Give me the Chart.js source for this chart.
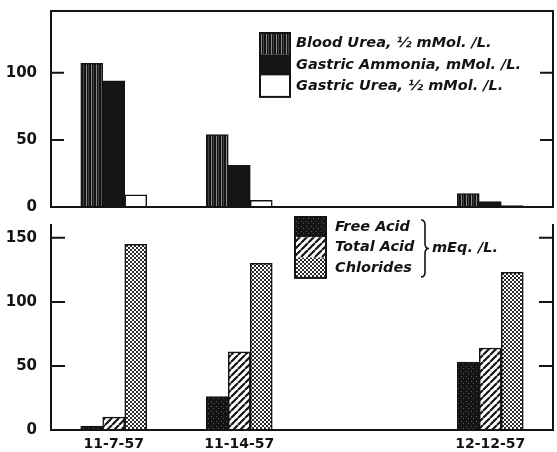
<!DOCTYPE html>
<html>
<head>
<meta charset="utf-8">
<script src="https://cdn.jsdelivr.net/npm/chart.js@4.4.1/dist/chart.umd.min.js"></script>
<style>
  body { margin: 0; background: #fff; }
  #wrap { position: relative; width: 557px; height: 452px; }
  canvas { position: absolute; left: 0; }
  #top { top: 0; }
  #bottom { top: 215px; }
</style>
</head>
<body>
<div id="wrap">
  <canvas id="top" width="557" height="215"></canvas>
  <canvas id="bottom" width="557" height="237"></canvas>
</div>
<script>
// values
const dates = ['11-7-57', '11-14-57', '', '12-12-57'];
const bloodUrea = [107, 54, null, 10];
const gastricAmmonia = [94, 31, null, 4];
const gastricUrea = [9, 5, null, 1];
const freeAcid = [3, 26, null, 53];
const totalAcid = [10, 61, null, 64];
const chlorides = [145, 130, null, 123];
const topTicks = [0, 50, 100];
const bottomTicks = [0, 50, 100, 150];

const ink = '#141414';
const tickFont = { family: 'DejaVu Sans', weight: 'bold', size: 15 };

function makePattern(w, h, draw) {
    const c = document.createElement('canvas');
    c.width = w;
    c.height = h;
    const g = c.getContext('2d');
    draw(g);
    return g.createPattern(c, 'repeat');
}

// fills imitating the printed textures
const striped = makePattern(5, 1, g => {
    g.fillStyle = ink; g.fillRect(0, 0, 5, 1);
    g.fillStyle = '#8a8a8a'; g.fillRect(1, 0, 1, 1);
    g.fillStyle = '#444'; g.fillRect(3, 0, 1, 1);
});
const speckled = makePattern(5, 5, g => {
    g.fillStyle = ink; g.fillRect(0, 0, 5, 5);
    g.fillStyle = '#5a5a5a'; g.fillRect(1, 1, 1, 1); g.fillRect(3, 3, 1, 1);
});
const hatched = makePattern(7, 7, g => {
    g.fillStyle = '#fff'; g.fillRect(0, 0, 7, 7);
    g.strokeStyle = ink; g.lineWidth = 2.2;
    g.beginPath();
    [-7, 0, 7].forEach(o => { g.moveTo(o, 7); g.lineTo(o + 7, 0); });
    g.stroke();
});
const dotted = makePattern(4, 4, g => {
    g.fillStyle = '#fff'; g.fillRect(0, 0, 4, 4);
    g.fillStyle = '#2a2a2a';
    g.fillRect(0, 0, 2, 2); g.fillRect(2, 2, 2, 2);
});

const framePlugin = {
    id: 'frame',
    afterDraw(chart, args, opts) {
        const { ctx, chartArea: a } = chart;
        const y = chart.scales.y;
        ctx.save();
        ctx.strokeStyle = ink;
        ctx.lineWidth = 2;
        ctx.lineCap = 'square';
        ctx.beginPath();
        ctx.moveTo(a.left, a.top); ctx.lineTo(a.left, a.bottom); ctx.lineTo(a.right, a.bottom);
        ctx.moveTo(a.right, a.top); ctx.lineTo(a.right, a.bottom);
        if (opts.topLine) { ctx.moveTo(a.left, a.top); ctx.lineTo(a.right, a.top); }
        y.ticks.forEach(t => {
            if (t.value === 0) return;
            const py = y.getPixelForValue(t.value);
            ctx.moveTo(a.left, py); ctx.lineTo(a.left + opts.tick, py);
            ctx.moveTo(a.right, py); ctx.lineTo(a.right - opts.tick, py);
        });
        ctx.stroke();
        ctx.restore();
    }
};

const boxLegend = {
    id: 'boxLegend',
    afterDraw(chart, args, o) {
        const ctx = chart.ctx;
        const sets = chart.data.datasets;
        ctx.save();
        ctx.font = 'italic bold 14.5px "DejaVu Sans"';
        ctx.textBaseline = 'middle';
        sets.forEach((ds, i) => {
            const y = o.y + i * o.row;
            ctx.fillStyle = ds.backgroundColor;
            ctx.fillRect(o.x, y, o.w, o.row);
            ctx.fillStyle = ink;
            ctx.fillText(ds.label, o.x + o.w + o.gap, y + o.row / 2);
        });
        ctx.strokeStyle = ink;
        ctx.lineWidth = 2;
        ctx.strokeRect(o.x, o.y, o.w, o.row * sets.length);
        if (o.unit) {
            const top = o.y + 3, bot = o.y + o.row * sets.length - 1, mid = (top + bot) / 2, bx = o.braceX;
            ctx.lineWidth = 1.6;
            ctx.beginPath();
            ctx.moveTo(bx, top);
            ctx.quadraticCurveTo(bx + 4, top, bx + 4, top + 5);
            ctx.lineTo(bx + 4, mid - 5);
            ctx.quadraticCurveTo(bx + 4, mid, bx + 8, mid);
            ctx.quadraticCurveTo(bx + 4, mid, bx + 4, mid + 5);
            ctx.lineTo(bx + 4, bot - 5);
            ctx.quadraticCurveTo(bx + 4, bot, bx, bot);
            ctx.stroke();
            ctx.fillText(o.unit, bx + 11, mid);
        }
        ctx.restore();
    }
};

function barSet(label, data, fill) {
    return {
        label: label,
        data: data,
        backgroundColor: fill,
        borderColor: ink,
        borderWidth: 1.5,
        barThickness: 22
    };
}

function yScale(max, ticks) {
    return {
        min: 0,
        max: max,
        afterBuildTicks: s => { s.ticks = ticks.map(v => ({ value: v })); },
        afterFit: s => {
            s.width = 51;
            s.paddingTop = 0;
            s.paddingBottom = 0;
        },
        grid: { display: false, drawTicks: false },
        border: { display: false },
        ticks: { padding: 14, color: ink, font: tickFont }
    };
}

new Chart(document.getElementById('top'), {
    type: 'bar',
    data: {
        labels: dates,
        datasets: [
            barSet('Blood Urea, \u00bd mMol. /L.', bloodUrea, striped),
            barSet('Gastric Ammonia, mMol. /L.', gastricAmmonia, ink),
            barSet('Gastric Urea, \u00bd mMol. /L.', gastricUrea, '#fff')
        ]
    },
    options: {
        responsive: false,
        animation: false,
        devicePixelRatio: 1,
        layout: { padding: { top: 11, right: 4, bottom: 8, left: 0 } },
        plugins: {
            legend: { display: false },
            tooltip: { enabled: false },
            frame: { topLine: true, tick: 12 },
            boxLegend: { x: 260, y: 33, row: 21.3, w: 30, gap: 6 }
        },
        scales: {
            x: { display: false, offset: true },
            y: yScale(146, topTicks)
        }
    },
    plugins: [framePlugin, boxLegend]
});

new Chart(document.getElementById('bottom'), {
    type: 'bar',
    data: {
        labels: dates,
        datasets: [
            barSet('Free Acid', freeAcid, speckled),
            barSet('Total Acid', totalAcid, hatched),
            barSet('Chlorides', chlorides, dotted)
        ]
    },
    options: {
        responsive: false,
        animation: false,
        devicePixelRatio: 1,
        layout: { padding: { top: 10, right: 4, bottom: 0, left: 0 } },
        plugins: {
            legend: { display: false },
            tooltip: { enabled: false },
            frame: { topLine: false, tick: 13 },
            boxLegend: { x: 295, y: 2, row: 20.3, w: 31, gap: 9, unit: 'mEq. /L.', braceX: 421 }
        },
        scales: {
            x: {
                offset: true,
                afterFit: s => {
                    s.height = 22;
                    s.paddingLeft = 0;
                    s.paddingRight = 0;
                },
                grid: { display: false, drawTicks: false },
                border: { display: false },
                ticks: { padding: 6, color: ink, font: { family: 'DejaVu Sans', weight: 'bold', size: 14 } }
            },
            y: yScale(160, bottomTicks)
        }
    },
    plugins: [framePlugin, boxLegend]
});
</script>
</body>
</html>
